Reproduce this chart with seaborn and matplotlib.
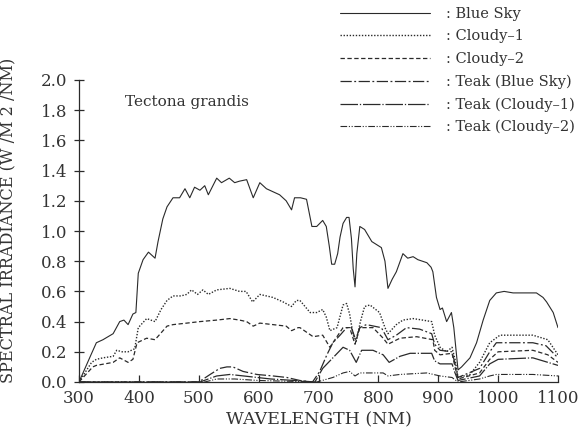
import numpy as np
import pandas as pd
import matplotlib
matplotlib.use("Agg")
import matplotlib.pyplot as plt
import seaborn as sns

# ---- data ----
blue_wl = [300, 310, 320, 329, 340, 357, 368, 375, 382, 390, 395, 399, 407, 416, 427, 432, 440, 447,
           457, 468, 477, 485, 493, 502, 510, 516, 530, 538, 551, 560, 568, 580, 591, 602, 613, 624,
           635, 646, 655, 660, 670, 680, 689, 697, 707, 713, 718, 722, 727, 732, 736, 741, 747, 751,
           755, 758, 761, 764, 769, 777, 789, 805, 811, 816, 823, 830, 841, 849, 858, 866, 881, 888,
           891, 897, 903, 907, 914, 922, 926, 930, 933, 939, 953, 964, 975, 986, 997, 1010, 1025,
           1045, 1064, 1075, 1081, 1092, 1100]
blue_val = [0.00, 0.09, 0.18, 0.26, 0.28, 0.32, 0.40, 0.41, 0.38, 0.45, 0.46, 0.72, 0.81, 0.86, 0.82, 0.93, 1.08, 1.16,
            1.22, 1.22, 1.28, 1.22, 1.29, 1.27, 1.30, 1.24, 1.35, 1.32, 1.35, 1.32, 1.33, 1.34, 1.22, 1.32, 1.28, 1.26,
            1.24, 1.20, 1.14, 1.22, 1.22, 1.21, 1.03, 1.03, 1.07, 1.03, 0.90, 0.78, 0.78, 0.85, 0.96, 1.05, 1.09, 1.09,
            0.95, 0.75, 0.63, 0.85, 1.03, 1.01, 0.93, 0.89, 0.80, 0.62, 0.68, 0.73, 0.85, 0.82, 0.83, 0.81, 0.79, 0.76,
            0.73, 0.56, 0.48, 0.49, 0.40, 0.46, 0.36, 0.20, 0.08, 0.10, 0.16, 0.26, 0.41, 0.54, 0.59, 0.60, 0.59,
            0.59, 0.59, 0.56, 0.53, 0.46, 0.36]

c1_wl = [300, 321, 329, 340, 357, 363, 372, 382, 393, 399, 413, 427, 437, 447, 457, 470, 480, 488, 498, 507,
         516, 530, 552, 568, 579, 590, 602, 624, 641, 655, 663, 669, 686, 697, 707, 713, 719, 731, 741, 747,
         752, 758, 763, 770, 777, 786, 802, 811, 816, 830, 841, 858, 874, 889, 894, 903, 914, 923, 928, 933,
         953, 969, 986, 1003, 1058, 1083, 1100]
c1_val = [0.00, 0.13, 0.15, 0.16, 0.17, 0.21, 0.20, 0.20, 0.22, 0.36, 0.42, 0.40, 0.48, 0.54, 0.57, 0.57, 0.58, 0.61, 0.58, 0.61,
          0.58, 0.61, 0.62, 0.60, 0.60, 0.53, 0.58, 0.56, 0.53, 0.50, 0.54, 0.54, 0.46, 0.46, 0.48, 0.43, 0.34, 0.36, 0.51, 0.52,
          0.45, 0.31, 0.27, 0.40, 0.50, 0.51, 0.46, 0.36, 0.32, 0.38, 0.41, 0.42, 0.41, 0.40, 0.31, 0.23, 0.20, 0.23, 0.15, 0.03,
          0.05, 0.13, 0.26, 0.31, 0.31, 0.28, 0.18]

c2_wl = [300, 323, 329, 357, 368, 382, 390, 397, 413, 427, 447, 457, 480, 502, 530, 552, 568, 580, 591, 602,
         624, 646, 655, 666, 669, 691, 707, 719, 741, 752, 761, 769, 791, 808, 816, 836, 864, 891, 894, 903,
         923, 928, 933, 969, 986, 1000, 1058, 1083, 1100]
c2_val = [0.00, 0.10, 0.11, 0.13, 0.16, 0.13, 0.15, 0.26, 0.29, 0.28, 0.37, 0.38, 0.39, 0.40, 0.41, 0.42, 0.41, 0.40, 0.37, 0.39,
          0.38, 0.37, 0.34, 0.36, 0.36, 0.30, 0.31, 0.23, 0.36, 0.36, 0.25, 0.36, 0.36, 0.29, 0.25, 0.29, 0.30, 0.28, 0.21, 0.18,
          0.19, 0.10, 0.02, 0.06, 0.15, 0.20, 0.21, 0.18, 0.13]

tb_wl = [300, 500, 519, 535, 547, 557, 574, 597, 624, 647, 669, 690, 702, 714, 724, 736, 747, 755, 762, 769,
         780, 805, 816, 830, 847, 869, 889, 894, 903, 923, 928, 933, 969, 986, 997, 1058, 1080, 1100]
tb_val = [0.00, 0.00, 0.05, 0.09, 0.10, 0.10, 0.07, 0.05, 0.04, 0.03, 0.01, 0.00, 0.07, 0.18, 0.26, 0.31, 0.36, 0.36, 0.28, 0.36,
          0.38, 0.36, 0.28, 0.31, 0.36, 0.35, 0.32, 0.25, 0.21, 0.20, 0.12, 0.03, 0.09, 0.20, 0.26, 0.26, 0.24, 0.16]

tc1_wl = [300, 502, 530, 552, 575, 620, 660, 694, 707, 724, 741, 752, 763, 772, 791, 808, 818, 836, 853, 889,
          894, 903, 923, 928, 933, 969, 986, 1000, 1058, 1100]
tc1_val = [0.00, 0.00, 0.04, 0.05, 0.04, 0.02, 0.01, 0.00, 0.09, 0.16, 0.23, 0.21, 0.13, 0.21, 0.21, 0.18, 0.13, 0.17, 0.19, 0.19,
           0.14, 0.12, 0.12, 0.06, 0.01, 0.04, 0.12, 0.15, 0.16, 0.11]

tc2_wl = [300, 510, 530, 560, 600, 650, 697, 724, 741, 752, 761, 769, 808, 816, 836, 881, 903, 923, 933, 969,
          986, 997, 1058, 1100]
tc2_val = [0.00, 0.00, 0.02, 0.02, 0.01, 0.005, 0.00, 0.03, 0.06, 0.07, 0.04, 0.06, 0.06, 0.04, 0.05, 0.06, 0.04, 0.03, 0.00, 0.02,
           0.04, 0.05, 0.05, 0.04]

series_labels = ["Blue Sky", "Cloudy\u20131", "Cloudy\u20132",
                 "Teak (Blue Sky)", "Teak (Cloudy\u20131)", "Teak (Cloudy\u20132)"]
series_data = [(blue_wl, blue_val), (c1_wl, c1_val), (c2_wl, c2_val),
               (tb_wl, tb_val), (tc1_wl, tc1_val), (tc2_wl, tc2_val)]

x_ticks = [300, 400, 500, 600, 700, 800, 900, 1000, 1100]
y_ticks = [0.0, 0.2, 0.4, 0.6, 0.8, 1.0, 1.2, 1.4, 1.6, 1.8, 2.0]

# ---- style ----
sns.set_style("ticks")
plt.rcParams['font.family'] = ['DejaVu Serif']
ink = "#2a2a2a"
text_c = "#333333"

styles = [
    dict(linestyle="-", linewidth=0.8),
    dict(linestyle=(0, (1, 1.2)), linewidth=1.0),
    dict(linestyle=(0, (3.5, 2)), linewidth=0.9),
    dict(linestyle=(0, (9, 2, 1.5, 2)), linewidth=0.9),
    dict(linestyle=(0, (14, 1.5, 1, 1.5)), linewidth=0.9),
    dict(linestyle=(0, (6, 1.5, 1, 1.5, 1, 1.5)), linewidth=0.8),
]

fig = plt.figure(figsize=(5.8, 4.41), dpi=100)
ax = fig.add_axes([79/580, 1 - 382/441, (558-79)/580, (382-80)/441])

for (wl, val), lab, st in zip(series_data, series_labels, styles):
    df = pd.DataFrame({"wl": wl, "val": val})
    sns.lineplot(data=df, x="wl", y="val", ax=ax, color=ink, label=lab, legend=False, **st)

ax.set_xlim(300, 1100)
ax.set_ylim(0, 2.0)
ax.set_xticks(x_ticks)
ax.set_xticklabels([str(t) for t in x_ticks])
ax.set_yticks(y_ticks)
ax.set_yticklabels([f"{t:.1f}" for t in y_ticks])
sns.despine(ax=ax)
for s in ["left", "bottom"]:
    ax.spines[s].set_color(ink)
    ax.spines[s].set_linewidth(0.9)
ax.tick_params(axis="y", direction="inout", length=7, width=0.9, colors=ink, labelcolor=text_c,
               labelsize=12, pad=5)
ax.tick_params(axis="x", direction="in", length=5, width=0.9, colors=ink, labelcolor=text_c,
               labelsize=12, pad=6)

ax.set_xlabel("WAVELENGTH (NM)", fontsize=12.5, color=text_c, labelpad=3)
ax.set_ylabel("SPECTRAL IRRADIANCE (W /M 2 /NM)", fontsize=11.6, color=text_c, labelpad=8)
ax.yaxis.set_label_coords(-0.128, 0.535)

ax.text(0.096, 0.927, "Tectona grandis", transform=ax.transAxes, fontsize=11,
        color=text_c, ha="left", va="center")

handles = ax.get_lines()[:6]
leg = fig.legend(handles, [": " + l for l in series_labels], loc="upper left",
                 bbox_to_anchor=(340/580, 1 - 7/441), bbox_transform=fig.transFigure,
                 frameon=False, fontsize=10.5, handlelength=6.2, handletextpad=1.1,
                 labelspacing=0.58, borderpad=0, borderaxespad=0)
for t in leg.get_texts():
    t.set_color(text_c)

fig.savefig("out.png", dpi=100)
